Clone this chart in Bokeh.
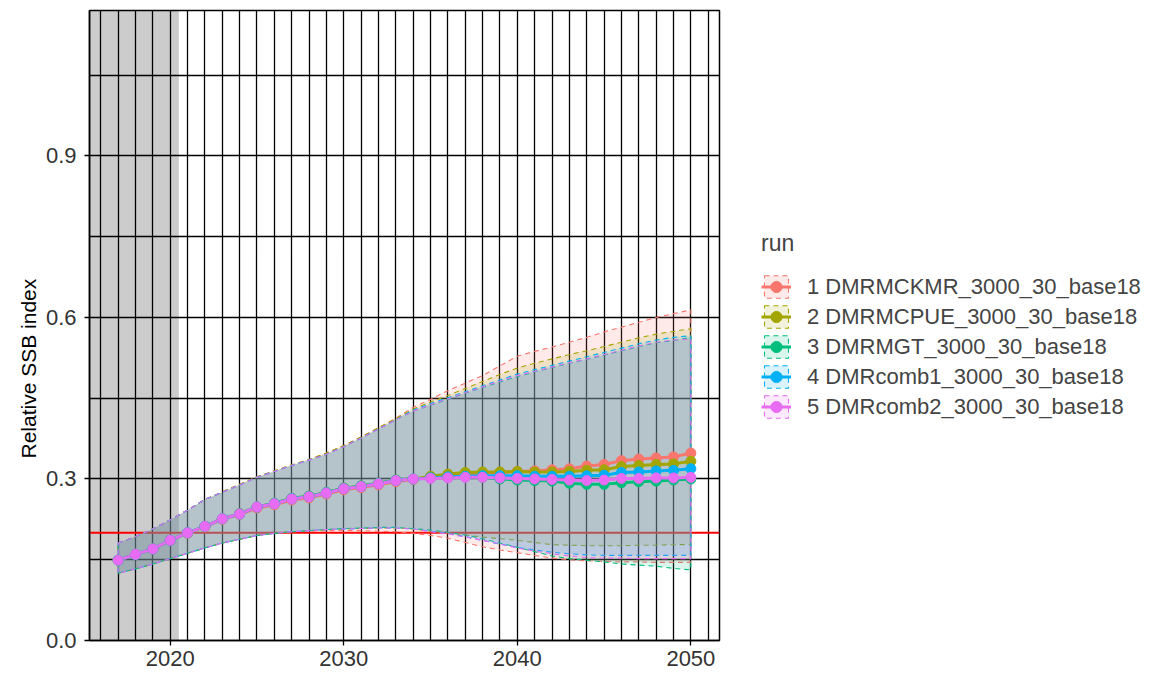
from bokeh.plotting import figure
from bokeh.models import (FixedTicker, NumeralTickFormatter, Legend, LegendItem,
                          BoxAnnotation, Span, Range1d, Title)
from bokeh.embed import file_html
from bokeh.resources import INLINE

years = list(range(2017, 2051))

runs = ["1 DMRMCKMR_3000_30_base18", "2 DMRMCPUE_3000_30_base18", "3 DMRMGT_3000_30_base18",
        "4 DMRcomb1_3000_30_base18", "5 DMRcomb2_3000_30_base18"]
colors = ["#F8766D", "#A3A500", "#00BF7D", "#00B0F6", "#E76BF3"]

med_1 = [0.149, 0.160, 0.170, 0.186, 0.199, 0.211, 0.225, 0.234, 0.246, 0.252, 0.261, 0.265, 0.272, 0.280, 0.284, 0.289, 0.295,
         0.299, 0.304, 0.306, 0.309, 0.311, 0.312, 0.314, 0.315, 0.317, 0.319, 0.324, 0.327, 0.334, 0.337, 0.339, 0.341, 0.348]
med_2 = [0.149, 0.160, 0.170, 0.186, 0.200, 0.212, 0.226, 0.236, 0.248, 0.255, 0.264, 0.268, 0.275, 0.283, 0.287, 0.292, 0.298,
         0.300, 0.305, 0.309, 0.312, 0.313, 0.313, 0.314, 0.313, 0.313, 0.314, 0.316, 0.317, 0.323, 0.325, 0.327, 0.328, 0.333]
med_3 = [0.149, 0.160, 0.170, 0.186, 0.200, 0.212, 0.226, 0.235, 0.248, 0.255, 0.264, 0.268, 0.275, 0.283, 0.287, 0.292, 0.298,
         0.300, 0.302, 0.303, 0.304, 0.303, 0.300, 0.298, 0.297, 0.296, 0.292, 0.290, 0.290, 0.293, 0.295, 0.296, 0.298, 0.300]
med_4 = [0.149, 0.160, 0.170, 0.186, 0.200, 0.212, 0.226, 0.235, 0.248, 0.254, 0.263, 0.267, 0.274, 0.282, 0.286, 0.291, 0.297,
         0.300, 0.302, 0.304, 0.305, 0.306, 0.306, 0.306, 0.305, 0.305, 0.305, 0.306, 0.307, 0.312, 0.313, 0.315, 0.316, 0.319]
med_5 = [0.149, 0.160, 0.170, 0.186, 0.200, 0.212, 0.226, 0.235, 0.248, 0.254, 0.263, 0.267, 0.274, 0.282, 0.286, 0.291, 0.297,
         0.300, 0.301, 0.302, 0.303, 0.303, 0.302, 0.301, 0.300, 0.299, 0.298, 0.297, 0.298, 0.301, 0.301, 0.302, 0.302, 0.303]

up_1 = [0.181, 0.193, 0.207, 0.224, 0.242, 0.262, 0.276, 0.290, 0.304, 0.315, 0.326, 0.336, 0.348, 0.362, 0.378, 0.395, 0.413,
        0.433, 0.448, 0.464, 0.478, 0.492, 0.510, 0.528, 0.537, 0.545, 0.554, 0.563, 0.573, 0.582, 0.591, 0.600, 0.607, 0.614]
up_2 = [0.181, 0.193, 0.207, 0.224, 0.242, 0.262, 0.276, 0.290, 0.304, 0.315, 0.326, 0.336, 0.348, 0.362, 0.378, 0.395, 0.412,
        0.430, 0.443, 0.455, 0.468, 0.481, 0.494, 0.506, 0.515, 0.523, 0.531, 0.538, 0.546, 0.554, 0.562, 0.569, 0.574, 0.579]
up_3 = [0.181, 0.193, 0.207, 0.224, 0.242, 0.262, 0.275, 0.289, 0.303, 0.314, 0.325, 0.335, 0.346, 0.360, 0.376, 0.393, 0.410,
        0.426, 0.437, 0.448, 0.459, 0.470, 0.480, 0.490, 0.499, 0.507, 0.515, 0.522, 0.530, 0.538, 0.546, 0.553, 0.557, 0.563]
up_4 = [0.181, 0.193, 0.207, 0.224, 0.242, 0.262, 0.275, 0.289, 0.303, 0.314, 0.325, 0.335, 0.346, 0.360, 0.376, 0.393, 0.410,
        0.428, 0.440, 0.451, 0.462, 0.473, 0.484, 0.495, 0.503, 0.511, 0.519, 0.527, 0.535, 0.543, 0.551, 0.558, 0.563, 0.566]
up_5 = [0.181, 0.193, 0.207, 0.224, 0.242, 0.262, 0.275, 0.289, 0.303, 0.314, 0.325, 0.335, 0.346, 0.360, 0.376, 0.393, 0.410,
        0.426, 0.438, 0.449, 0.460, 0.471, 0.482, 0.492, 0.500, 0.508, 0.516, 0.523, 0.531, 0.539, 0.547, 0.554, 0.558, 0.560]

lo_1 = [0.125, 0.133, 0.142, 0.152, 0.162, 0.172, 0.181, 0.188, 0.195, 0.199, 0.202, 0.203, 0.204, 0.204, 0.204, 0.203, 0.202,
        0.199, 0.195, 0.190, 0.182, 0.174, 0.168, 0.163, 0.158, 0.153, 0.150, 0.148, 0.147, 0.146, 0.146, 0.145, 0.145, 0.145]
lo_2 = [0.125, 0.133, 0.142, 0.152, 0.162, 0.172, 0.181, 0.188, 0.195, 0.199, 0.202, 0.204, 0.206, 0.207, 0.208, 0.209, 0.209,
        0.207, 0.203, 0.200, 0.196, 0.192, 0.189, 0.186, 0.182, 0.178, 0.177, 0.176, 0.176, 0.176, 0.177, 0.177, 0.178, 0.178]
lo_3 = [0.125, 0.133, 0.142, 0.152, 0.162, 0.172, 0.181, 0.188, 0.195, 0.199, 0.202, 0.204, 0.206, 0.208, 0.209, 0.210, 0.210,
        0.208, 0.205, 0.201, 0.196, 0.189, 0.181, 0.173, 0.165, 0.157, 0.152, 0.149, 0.146, 0.142, 0.140, 0.138, 0.134, 0.131]
lo_4 = [0.125, 0.133, 0.142, 0.152, 0.162, 0.172, 0.181, 0.188, 0.195, 0.199, 0.202, 0.204, 0.206, 0.207, 0.208, 0.209, 0.209,
        0.207, 0.203, 0.199, 0.193, 0.186, 0.179, 0.173, 0.168, 0.164, 0.161, 0.159, 0.158, 0.158, 0.158, 0.158, 0.158, 0.158]
lo_5 = [0.125, 0.133, 0.142, 0.152, 0.162, 0.172, 0.181, 0.188, 0.195, 0.199, 0.202, 0.204, 0.206, 0.207, 0.208, 0.209, 0.209,
        0.207, 0.202, 0.198, 0.192, 0.186, 0.179, 0.172, 0.166, 0.161, 0.157, 0.154, 0.153, 0.153, 0.152, 0.152, 0.152, 0.152]

medians = [med_1, med_2, med_3, med_4, med_5]
uppers = [up_1, up_2, up_3, up_4, up_5]
lowers = [lo_1, lo_2, lo_3, lo_4, lo_5]

reference_level = 0.2
shade_end = 2020.5
x_ticks = [2020, 2030, 2040, 2050]
y_ticks = [0.0, 0.3, 0.6, 0.9]
x_grid = list(range(2016, 2052))
y_grid = [0.0, 0.15, 0.3, 0.45, 0.6, 0.75, 0.9, 1.05]
y_title = "Relative SSB index"

FONT = "Liberation Sans"

p = figure(frame_width=630, frame_height=630, output_backend="svg", toolbar_location=None,
           x_range=Range1d(2015.35, 2051.65), y_range=Range1d(0, 1.17),
           min_border_left=89, min_border_top=10, min_border_bottom=35, min_border_right=0)
p.background_fill_color = "white"
p.outline_line_color = "black"
p.outline_line_width = 1.5

p.xgrid.ticker = FixedTicker(ticks=x_grid)
p.ygrid.ticker = FixedTicker(ticks=y_grid)
for g in (p.xgrid, p.ygrid):
    g.grid_line_color = "black"
    g.grid_line_width = 1.3

p.xaxis.ticker = FixedTicker(ticks=x_ticks)
p.yaxis.ticker = FixedTicker(ticks=y_ticks)
p.yaxis.formatter = NumeralTickFormatter(format="0.0")
for ax in (p.xaxis, p.yaxis):
    ax.axis_line_color = "black"
    ax.axis_line_width = 1.5
    ax.major_tick_line_color = "black"
    ax.major_tick_line_width = 1.3
    ax.major_tick_out = 5
    ax.major_tick_in = 0
    ax.minor_tick_line_color = None
    ax.major_label_text_font = FONT
    ax.major_label_text_font_size = "22px"
    ax.major_label_text_color = "#333333"
    ax.major_label_standoff = 8
p.xaxis.major_label_standoff = 5

p.add_layout(Title(text=y_title, align="left", offset=182, text_font=FONT,
                   text_font_size="21px", text_font_style="normal", text_color="black",
                   standoff=5), "left")

p.add_layout(BoxAnnotation(right=shade_end, fill_color="black", fill_alpha=0.2,
                           line_color=None, level="underlay"))
p.add_layout(Span(location=reference_level, dimension="width", line_color="red",
                  line_width=2, level="underlay"))

patches = []
for up, lo, c in zip(uppers, lowers, colors):
    xs = years + years[::-1]
    ys = up + lo[::-1]
    r = p.patch(xs, ys, fill_color=c, fill_alpha=0.15, line_color=c, line_width=1.1,
                line_dash="5 4")
    patches.append(r)

lines = []
for med, c in zip(medians, colors):
    lines.append(p.line(years, med, line_color=c, line_width=3))
points = []
for med, c in zip(medians, colors):
    points.append(p.scatter(years, med, fill_color=c, line_color=c, size=10))

items = [LegendItem(label=lab, renderers=[pa, li, pt])
         for lab, pa, li, pt in zip(runs, patches, lines, points)]
legend = Legend(items=items, location="center_left", title="run",
                title_text_font=FONT, title_text_font_size="23px", title_text_font_style="normal",
                title_standoff=16,
                label_text_font=FONT, label_text_font_size="22px", label_standoff=16,
                glyph_width=30, glyph_height=28, spacing=2,
                margin=42, padding=10, border_line_color=None, background_fill_alpha=0)
p.add_layout(legend, "right")

open("out.html", "w").write(file_html(p, INLINE))
